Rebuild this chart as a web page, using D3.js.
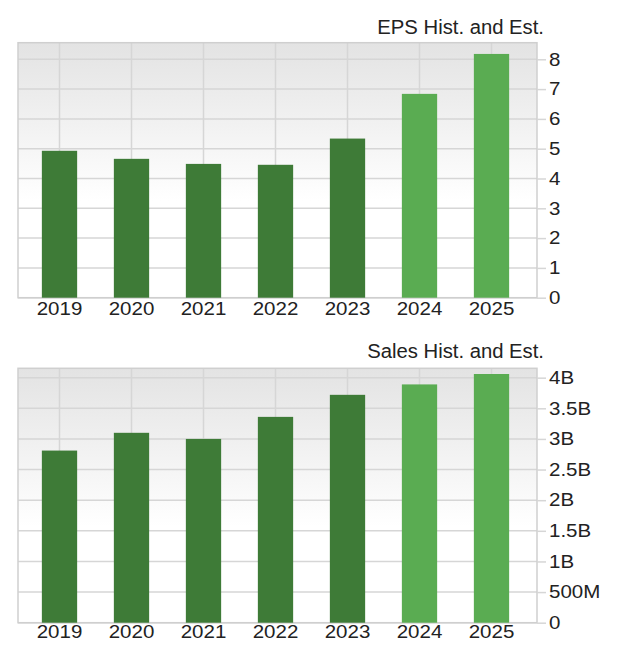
<!DOCTYPE html>
<html>
<head>
<meta charset="utf-8">
<script src="https://cdn.jsdelivr.net/npm/d3@7"></script>
<style>
  html, body { margin: 0; padding: 0; background: #ffffff; }
  svg { display: block; }
  text { font-family: "Liberation Sans", Arial, Helvetica, sans-serif; fill: #222; }
</style>
</head>
<body>
<svg id="chart" width="620" height="664"></svg>
<script>
// ---- data ----
const years = ["2019", "2020", "2021", "2022", "2023", "2024", "2025"];
const isEstimate = [false, false, false, false, false, true, true];
const epsValues = [4.93, 4.66, 4.49, 4.46, 5.34, 6.84, 8.18];
const salesValues = [2.81e9, 3.10e9, 3.00e9, 3.36e9, 3.72e9, 3.89e9, 4.06e9];
const epsTicks = [0, 1, 2, 3, 4, 5, 6, 7, 8];
const salesTicks = [0, 0.5e9, 1e9, 1.5e9, 2e9, 2.5e9, 3e9, 3.5e9, 4e9];
const titles = ["EPS Hist. and Est.", "Sales Hist. and Est."];

// ---- styling ----
const histColor = "#3e7b37";
const estColor = "#5aac52";
const gridColor = "#d6d6d6";
const borderColor = "#cfcfcf";
const stretch = 1.14;

const svg = d3.select("#chart");

function salesFmt(v) {
  if (v === 0) return "0";
  if (v >= 1e9) return d3.format("~g")(v / 1e9) + "B";
  return d3.format("~g")(v / 1e6) + "M";
}

function drawPanel(cfg) {
  const { id, values, ticks, domainMax, top, bottom, title, fmt, titleY, labelY } = cfg;
  const left = 18, right = 537;
  const g = svg.append("g");

  const x = d3.scaleBand().domain(years).range([23.5, 527.5]).paddingInner(0.51).paddingOuter(0.255);
  const y = d3.scaleLinear().domain([0, domainMax]).range([bottom, top]);

  // gradient background
  const grad = svg.append("defs").append("linearGradient")
    .attr("id", "bg" + id).attr("x1", 0).attr("y1", 0).attr("x2", 0).attr("y2", 1);
  grad.append("stop").attr("offset", "0%").attr("stop-color", "#e3e3e3");
  grad.append("stop").attr("offset", "62%").attr("stop-color", "#ffffff");
  grad.append("stop").attr("offset", "100%").attr("stop-color", "#ffffff");

  g.append("rect")
    .attr("x", left).attr("y", top)
    .attr("width", right - left).attr("height", bottom - top)
    .attr("fill", `url(#bg${id})`);

  // horizontal gridlines
  g.append("g").selectAll("line").data(ticks).join("line")
    .attr("x1", left).attr("x2", right)
    .attr("y1", d => y(d)).attr("y2", d => y(d))
    .attr("stroke", gridColor).attr("stroke-width", 1.5);

  // vertical gridlines
  g.append("g").selectAll("line").data(years).join("line")
    .attr("x1", d => x(d) + x.bandwidth() / 2).attr("x2", d => x(d) + x.bandwidth() / 2)
    .attr("y1", top).attr("y2", bottom)
    .attr("stroke", gridColor).attr("stroke-width", 1.5);

  // border
  g.append("rect")
    .attr("x", left).attr("y", top)
    .attr("width", right - left).attr("height", bottom - top)
    .attr("fill", "none").attr("stroke", borderColor).attr("stroke-width", 1.5);

  // bars
  g.append("g").selectAll("rect").data(values).join("rect")
    .attr("x", (d, i) => x(years[i]))
    .attr("width", x.bandwidth())
    .attr("y", d => y(d))
    .attr("height", d => y(0) - y(d))
    .attr("fill", (d, i) => isEstimate[i] ? estColor : histColor);

  // right axis
  const yAxis = d3.axisRight(y).tickValues(ticks).tickFormat(fmt).tickSize(9).tickPadding(3);
  const ya = g.append("g").attr("transform", `translate(${right},0)`).call(yAxis);
  ya.select(".domain").remove();
  ya.selectAll(".tick line").attr("stroke", gridColor).attr("stroke-width", 1.5);
  ya.selectAll(".tick text").attr("font-size", 18).attr("fill", "#1e1e1e")
    .attr("font-family", '"Liberation Sans", Arial, sans-serif')
    .attr("x", 0)
    .attr("transform", `translate(12,0) scale(${stretch},1)`);

  // bottom axis labels
  const xAxis = d3.axisBottom(x).tickSize(0).tickPadding(0);
  const xa = g.append("g").attr("transform", `translate(0,${labelY})`).call(xAxis);
  xa.select(".domain").remove();
  xa.selectAll(".tick text").attr("font-size", 18).attr("fill", "#1e1e1e")
    .attr("dy", 0).attr("y", 0)
    .attr("font-family", '"Liberation Sans", Arial, sans-serif')
    .attr("transform", `scale(${stretch},1)`);

  // title
  g.append("text")
    .attr("x", 0).attr("y", 0)
    .attr("transform", `translate(544,${titleY}) scale(1.04,1)`)
    .attr("text-anchor", "end")
    .attr("font-size", 19.5)
    .attr("fill", "#1e1e1e")
    .text(title);
}

drawPanel({
  id: 0, values: epsValues, ticks: epsTicks, domainMax: 8.557,
  top: 42.7, bottom: 297.7, title: titles[0], fmt: d3.format("d"),
  titleY: 34, labelY: 314.5
});

drawPanel({
  id: 1, values: salesValues, ticks: salesTicks, domainMax: 4.153e9,
  top: 368.3, bottom: 622.7, title: titles[1], fmt: salesFmt,
  titleY: 358, labelY: 638
});
</script>
</body>
</html>
